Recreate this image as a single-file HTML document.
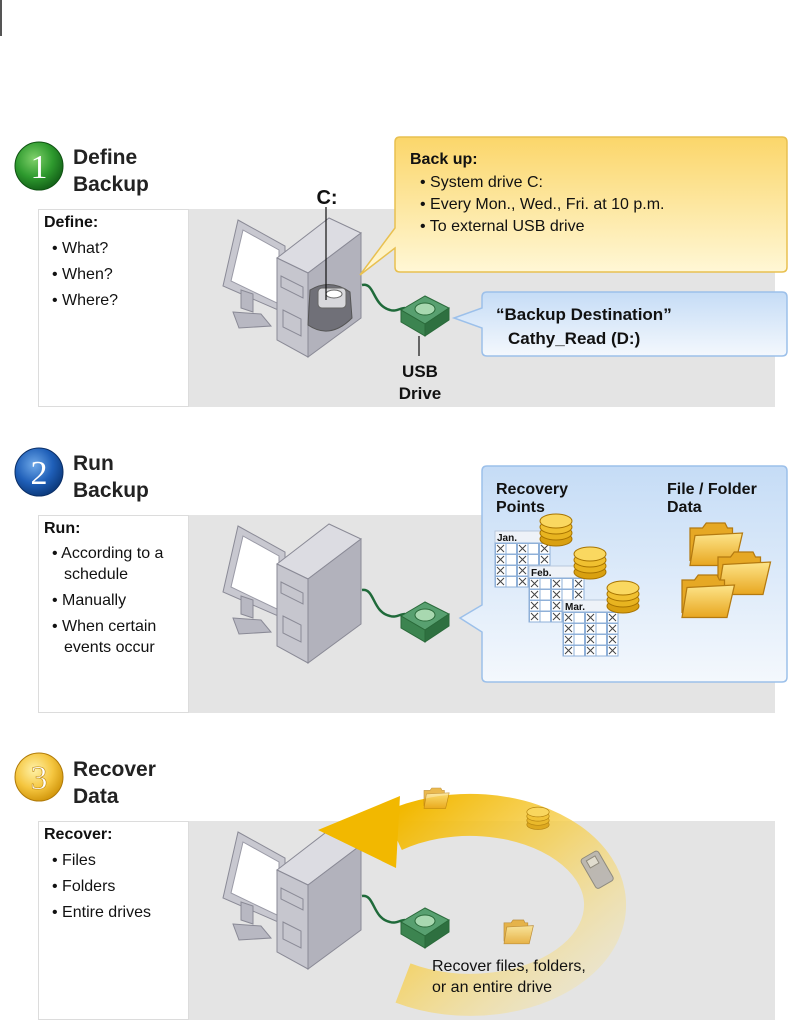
<!DOCTYPE html>
<html><head><meta charset="utf-8"><style>
html,body{margin:0;padding:0;background:#fff;}
svg{display:block;font-family:"Liberation Sans",Arial,sans-serif;}
</style></head><body>
<svg width="800" height="1027" viewBox="0 0 800 1027" xmlns="http://www.w3.org/2000/svg">
<defs>
 <radialGradient id="gG" cx="40%" cy="35%" r="65%"><stop offset="0" stop-color="#7fd06a"/><stop offset="0.6" stop-color="#2e9a2e"/><stop offset="1" stop-color="#16661a"/></radialGradient>
 <radialGradient id="gB" cx="40%" cy="35%" r="65%"><stop offset="0" stop-color="#6ea8e8"/><stop offset="0.6" stop-color="#1f5fb8"/><stop offset="1" stop-color="#0d3c80"/></radialGradient>
 <radialGradient id="gY" cx="40%" cy="35%" r="65%"><stop offset="0" stop-color="#fff2a8"/><stop offset="0.6" stop-color="#f5c640"/><stop offset="1" stop-color="#d49a10"/></radialGradient>
 <linearGradient id="yel" x1="0" y1="0" x2="0" y2="1"><stop offset="0" stop-color="#fbd66a"/><stop offset="1" stop-color="#fff8d8"/></linearGradient>
 <linearGradient id="blu" x1="0" y1="0" x2="0" y2="1"><stop offset="0" stop-color="#c5dcf6"/><stop offset="1" stop-color="#f4f8fd"/></linearGradient>
 <linearGradient id="arc" x1="0" y1="0" x2="1" y2="1"><stop offset="0" stop-color="#f2b800"/><stop offset="0.45" stop-color="#f6cf50" stop-opacity="0.8"/><stop offset="1" stop-color="#f8e6a0" stop-opacity="0.25"/></linearGradient>
 <linearGradient id="fold" x1="0" y1="0" x2="0" y2="1"><stop offset="0" stop-color="#fde58a"/><stop offset="1" stop-color="#e8a620"/></linearGradient>
 <pattern id="xg" width="0.4" height="0.25" patternUnits="objectBoundingBox">
  <rect x="0" y="0" width="22" height="11" fill="#fff"/>
  <rect x="0.5" y="0.5" width="10.5" height="10.5" fill="none" stroke="#8fb0d8"/>
  <rect x="11" y="0.5" width="10.5" height="10.5" fill="none" stroke="#8fb0d8"/>
  <path d="M2 2 L9 9 M9 2 L2 9" stroke="#444" stroke-width="1"/>
 </pattern>
 <g id="pc">
  <!-- monitor -->
  <polygon points="15,2 62,28 62,95 0,68" fill="#c8c8d0" stroke="#8a8a96"/>
  <polygon points="20,12 56,32 56,86 8,63" fill="#fff" stroke="#9a9aa6"/>
  <polygon points="18,72 30,76 30,94 18,90" fill="#b8b8c2" stroke="#8a8a96"/>
  <polygon points="10,94 38,96 48,108 16,110" fill="#b8b8c2" stroke="#8a8a96"/>
  <!-- tower -->
  <polygon points="54,40 106,0 138,15 85,55" fill="#dcdce2" stroke="#8a8a96"/>
  <polygon points="54,40 85,55 85,139 54,122" fill="#c6c6ce" stroke="#8a8a96"/>
  <polygon points="85,55 138,15 138,100 85,139" fill="#b2b2bc" stroke="#8a8a96"/>
  <polygon points="58,58 80,69 80,80 58,69" fill="none" stroke="#8a8a96"/>
  <polygon points="60,92 78,101 78,118 60,109" fill="none" stroke="#8a8a96"/>
 </g>
 <g id="usb">
  <polygon points="0,14 24,0 48,12 24,28" fill="#58a070" stroke="#2a6a3a"/>
  <polygon points="0,14 24,28 24,40 0,26" fill="#3c8450" stroke="#2a6a3a"/>
  <polygon points="24,28 48,12 48,24 24,40" fill="#2e7040" stroke="#2a6a3a"/>
  <ellipse cx="24" cy="13" rx="10" ry="6" fill="#a8d8b0" stroke="#2a6a3a"/>
 </g>
 <g id="coin">
  <ellipse cx="0" cy="18" rx="16" ry="7" fill="#d9a010" stroke="#a87400"/>
  <ellipse cx="0" cy="12" rx="16" ry="7" fill="#e8b420" stroke="#a87400"/>
  <ellipse cx="0" cy="6" rx="16" ry="7" fill="#f0c030" stroke="#a87400"/>
  <ellipse cx="0" cy="0" rx="16" ry="7" fill="#fad860" stroke="#a87400"/>
 </g>
 <g id="folder">
  <path d="M0 4 L10 4 L13 0 L28 0 L30 4 L34 4 L34 30 L0 30 Z" fill="#e6a824" stroke="#b47a10"/>
  <path d="M4 10 L42 8 L36 34 L0 34 Z" fill="url(#fold)" stroke="#b47a10"/>
 </g>
</defs>

<rect x="0" y="0" width="2" height="36" fill="#555"/>

<!-- ===== Section 1 ===== -->
<rect x="38" y="209" width="737" height="198" fill="#e4e4e4"/>
<rect x="38.5" y="209.5" width="150" height="197" fill="#fff" stroke="#dcdcdc"/>
<circle cx="39" cy="166" r="24" fill="url(#gG)" stroke="#0f5212"/>
<text x="39" y="178" font-family="Liberation Serif,serif" font-size="34" fill="#fff" text-anchor="middle">1</text>
<text x="73" y="164" font-size="21" font-weight="bold" fill="#222">Define</text>
<text x="73" y="191" font-size="21" font-weight="bold" fill="#222">Backup</text>
<g font-size="16" fill="#111">
 <text x="44" y="227" font-weight="bold">Define:</text>
 <text x="52" y="253">• What?</text>
 <text x="52" y="279">• When?</text>
 <text x="52" y="305">• Where?</text>
</g>
<use href="#pc" x="223" y="218"/>
<path d="M310 290 Q330 278 350 292 L352 318 Q330 340 308 325 Z" fill="#707078" stroke="#555"/>
<rect x="318" y="288" width="28" height="20" rx="4" fill="#d8d8dc" stroke="#666"/>
<ellipse cx="334" cy="294" rx="8" ry="4" fill="#fff" stroke="#666"/>
<line x1="326" y1="207" x2="326" y2="300" stroke="#111" stroke-width="1.2"/>
<text x="327" y="204" font-size="20" font-weight="bold" text-anchor="middle" fill="#111">C:</text>
<path d="M362 285 C375 282 372 305 390 310 C396 312 400 308 405 308" fill="none" stroke="#1f6a3a" stroke-width="2.5"/>
<use href="#usb" x="401" y="296"/>
<line x1="419" y1="336" x2="419" y2="356" stroke="#111" stroke-width="1.2"/>
<text x="420" y="377" font-size="17" font-weight="bold" text-anchor="middle" fill="#111">USB</text>
<text x="420" y="399" font-size="17" font-weight="bold" text-anchor="middle" fill="#111">Drive</text>
<!-- yellow callout -->
<path d="M400 137 H782 Q787 137 787 142 V267 Q787 272 782 272 H400 Q395 272 395 267 V248 L360 275 L395 228 V142 Q395 137 400 137 Z" fill="url(#yel)" stroke="#e8c050" stroke-width="1.5"/>
<g font-size="16" fill="#111">
 <text x="410" y="164" font-weight="bold">Back up:</text>
 <text x="420" y="187">• System drive C:</text>
 <text x="420" y="209">• Every Mon., Wed., Fri. at 10 p.m.</text>
 <text x="420" y="231">• To external USB drive</text>
</g>
<!-- blue callout -->
<path d="M487 292 H782 Q787 292 787 297 V351 Q787 356 782 356 H487 Q482 356 482 351 V328 L454 318 L482 308 V297 Q482 292 487 292 Z" fill="url(#blu)" stroke="#9cc0ea" stroke-width="1.5"/>
<text x="496" y="320" font-size="17" font-weight="bold" fill="#111">“Backup Destination”</text>
<text x="508" y="344" font-size="17" font-weight="bold" fill="#111">Cathy_Read (D:)</text>

<!-- ===== Section 2 ===== -->
<rect x="38" y="515" width="737" height="198" fill="#e4e4e4"/>
<rect x="38.5" y="515.5" width="150" height="197" fill="#fff" stroke="#dcdcdc"/>
<circle cx="39" cy="472" r="24" fill="url(#gB)" stroke="#0a2e66"/>
<text x="39" y="484" font-family="Liberation Serif,serif" font-size="34" fill="#fff" text-anchor="middle">2</text>
<text x="73" y="470" font-size="21" font-weight="bold" fill="#222">Run</text>
<text x="73" y="497" font-size="21" font-weight="bold" fill="#222">Backup</text>
<g font-size="16" fill="#111">
 <text x="44" y="533" font-weight="bold">Run:</text>
 <text x="52" y="558">• According to a</text>
 <text x="64" y="579">schedule</text>
 <text x="52" y="605">• Manually</text>
 <text x="52" y="631">• When certain</text>
 <text x="64" y="652">events occur</text>
</g>
<use href="#pc" x="223" y="524"/>
<path d="M362 590 C375 588 372 612 390 616 C396 618 400 614 405 614" fill="none" stroke="#1f6a3a" stroke-width="2.5"/>
<use href="#usb" x="401" y="602"/>
<path d="M487 466 H782 Q787 466 787 471 V677 Q787 682 782 682 H487 Q482 682 482 677 V632 L460 618 L482 605 V471 Q482 466 487 466 Z" fill="url(#blu)" stroke="#9cc0ea" stroke-width="1.5"/>
<g font-size="16" font-weight="bold" fill="#111">
 <text x="496" y="494">Recovery</text>
 <text x="496" y="512">Points</text>
 <text x="667" y="494">File / Folder</text>
 <text x="667" y="512">Data</text>
</g>
<!-- grids -->
<g>
 <rect x="495" y="531" width="55" height="12" fill="#eef2f8" stroke="#b8c8dc"/>
 <text x="497" y="541" font-size="10" font-weight="bold" fill="#111">Jan.</text>
 <rect x="495" y="543" width="55" height="44" fill="url(#xg)" stroke="#8fb0d8"/>
 <use href="#coin" x="556" y="521"/>
 <rect x="529" y="566" width="55" height="12" fill="#eef2f8" stroke="#b8c8dc"/>
 <text x="531" y="576" font-size="10" font-weight="bold" fill="#111">Feb.</text>
 <rect x="529" y="578" width="55" height="44" fill="url(#xg)" stroke="#8fb0d8"/>
 <use href="#coin" x="590" y="554"/>
 <rect x="563" y="600" width="55" height="12" fill="#eef2f8" stroke="#b8c8dc"/>
 <text x="565" y="610" font-size="10" font-weight="bold" fill="#111">Mar.</text>
 <rect x="563" y="612" width="55" height="44" fill="url(#xg)" stroke="#8fb0d8"/>
 <use href="#coin" x="623" y="588"/>
</g>
<use href="#folder" transform="translate(690,523) scale(1.25)"/>
<use href="#folder" transform="translate(718,552) scale(1.25)"/>
<use href="#folder" transform="translate(682,575) scale(1.25)"/>

<!-- ===== Section 3 ===== -->
<rect x="38" y="821" width="737" height="199" fill="#e4e4e4"/>
<rect x="38.5" y="821.5" width="150" height="198" fill="#fff" stroke="#dcdcdc"/>
<circle cx="39" cy="777" r="24" fill="url(#gY)" stroke="#b07a08"/>
<text x="39" y="789" font-family="Liberation Serif,serif" font-size="34" fill="#fff" text-anchor="middle" stroke="#c08a10" stroke-width="0.6">3</text>
<text x="73" y="776" font-size="21" font-weight="bold" fill="#222">Recover</text>
<text x="73" y="803" font-size="21" font-weight="bold" fill="#222">Data</text>
<g font-size="16" fill="#111">
 <text x="44" y="839" font-weight="bold">Recover:</text>
 <text x="52" y="865">• Files</text>
 <text x="52" y="891">• Folders</text>
 <text x="52" y="917">• Entire drives</text>
</g>
<use href="#pc" x="223" y="830"/>
<path d="M362 896 C375 894 372 918 390 922 C396 924 400 920 405 920" fill="none" stroke="#1f6a3a" stroke-width="2.5"/>
<use href="#usb" x="401" y="908"/>
<!-- arc arrow -->
<path d="M393 831 A 135 90 0 1 1 403 983" fill="none" stroke="url(#arc)" stroke-width="42"/>
<polygon points="400,796 396,868 318,830" fill="#f2b800"/>
<g opacity="0.8">
 <use href="#folder" transform="translate(424,788) scale(0.6)"/>
 <use href="#coin" transform="translate(538,812) scale(0.7)"/>
 <g transform="translate(580,860) rotate(-30)"><rect x="0" y="0" width="20" height="34" rx="3" fill="#b0b0b8" stroke="#777"/><rect x="5" y="4" width="10" height="8" fill="#ddd" stroke="#777"/></g>
 <use href="#folder" transform="translate(504,920) scale(0.7)"/>
</g>
<text x="432" y="971" font-size="16" fill="#111">Recover files, folders,</text>
<text x="432" y="992" font-size="16" fill="#111">or an entire drive</text>
</svg>
</body></html>
